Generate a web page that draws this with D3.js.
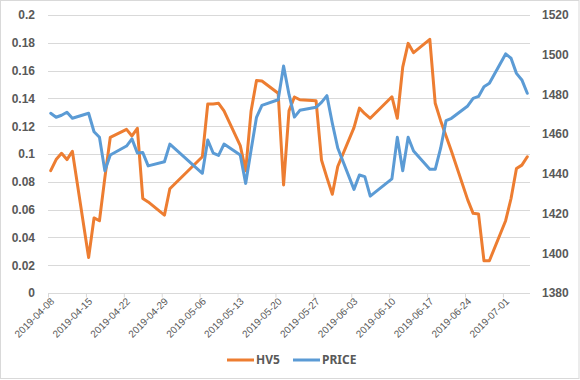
<!DOCTYPE html>
<html>
<head>
<meta charset="utf-8">
<script src="https://cdn.jsdelivr.net/npm/d3@7"></script>
<style>
  html, body { margin: 0; padding: 0; background: #fff; }
  svg { display: block; font-family: "Noto Sans", "Open Sans", sans-serif; }
</style>
</head>
<body>
<svg id="chart" width="580" height="380"></svg>
<script>
const dates = [
  "2019-04-08","2019-04-09","2019-04-10","2019-04-11","2019-04-12",
  "2019-04-15","2019-04-16","2019-04-17","2019-04-18","2019-04-19",
  "2019-04-22","2019-04-23","2019-04-24","2019-04-25","2019-04-26",
  "2019-04-29","2019-04-30",
  "2019-05-06","2019-05-07","2019-05-08","2019-05-09","2019-05-10",
  "2019-05-13","2019-05-14","2019-05-15","2019-05-16","2019-05-17",
  "2019-05-20","2019-05-21","2019-05-22","2019-05-23","2019-05-24",
  "2019-05-27","2019-05-28","2019-05-29","2019-05-30","2019-05-31",
  "2019-06-03","2019-06-04","2019-06-05","2019-06-06",
  "2019-06-10","2019-06-11","2019-06-12","2019-06-13","2019-06-14",
  "2019-06-17","2019-06-18","2019-06-19","2019-06-20","2019-06-21",
  "2019-06-24","2019-06-25","2019-06-26","2019-06-27","2019-06-28",
  "2019-07-01","2019-07-02","2019-07-03","2019-07-04","2019-07-05"
];
const hv5 = [
  0.088, 0.096, 0.1005, 0.096, 0.102,
  0.0255, 0.054, 0.052, 0.083, 0.112,
  0.1177, 0.113, 0.1185, 0.068, 0.0655,
  0.056, 0.075,
  0.098, 0.136, 0.136, 0.1365, 0.131,
  0.106, 0.088, 0.131, 0.1528, 0.1525,
  0.1437, 0.0777, 0.131, 0.141, 0.139,
  0.1383, 0.0957, 0.083, 0.071, 0.091,
  0.119, 0.133, 0.129, 0.1257,
  0.1412, 0.1257, 0.1625, 0.1796, 0.1729,
  0.1825, 0.1365, 0.124, 0.113, 0.102,
  0.067, 0.0573, 0.0568, 0.0232, 0.0232,
  0.052, 0.068, 0.0895, 0.092, 0.098
];
const price = [
  1470.5, 1468.5, 1469.5, 1471, 1468,
  1470.5, 1461.2, 1458.4, 1441.5, 1449.5,
  1454, 1457.6, 1450.5, 1450.7, 1444,
  1446.1, 1455,
  1440.3, 1457, 1450.5, 1449.3, 1455,
  1449.5, 1435.2, 1452, 1468.5, 1474.5,
  1477.3, 1494.3, 1480, 1468.6, 1472,
  1473.5, 1476, 1479.4, 1465.5, 1453,
  1432.2, 1439.4, 1438.6, 1428.8,
  1437.5, 1458.4, 1441.6, 1458.4, 1451.5,
  1442.3, 1442.3, 1452.9, 1466.8, 1468,
  1474.2, 1478, 1479, 1483.9, 1485.6,
  1500.4, 1498.2, 1490.6, 1487.3, 1480.6
];
const xTickLabels = ["2019-04-08","2019-04-15","2019-04-22","2019-04-29","2019-05-06",
  "2019-05-13","2019-05-20","2019-05-27","2019-06-03","2019-06-10","2019-06-17",
  "2019-06-24","2019-07-01"];
const leftTicks = [0, 0.02, 0.04, 0.06, 0.08, 0.1, 0.12, 0.14, 0.16, 0.18, 0.2];
const leftTickLabels = ["0","0.02","0.04","0.06","0.08","0.1","0.12","0.14","0.16","0.18","0.2"];
const rightTicks = [1380, 1400, 1420, 1440, 1460, 1480, 1500, 1520];
const rightTickLabels = ["1380","1400","1420","1440","1460","1480","1500","1520"];
const seriesNames = ["HV5", "PRICE"];
const axisStart = "2019-04-08", axisEnd = "2019-07-06";

(function () {
const parse = d3.utcParse("%Y-%m-%d");
const HALF_DAY = 12 * 3600 * 1000;
const svg = d3.select("#chart");
const W = 580, H = 380;
const pLeft = 48, pRight = 530, pTop = 15, pBottom = 293;
const colors = ["#ED7D31", "#5B9BD5"];
const textColor = "#595959";
const gridColor = "#d9d9d9";

svg.append("rect").attr("x", 0.5).attr("y", 0.5).attr("width", W - 1.5).attr("height", H - 2)
  .attr("fill", "#fff").attr("stroke", gridColor).attr("stroke-width", 1);

const x = d3.scaleUtc().domain([parse(axisStart), parse(axisEnd)]).range([pLeft, pRight]);
const yL = d3.scaleLinear().domain([0, 0.2]).range([pBottom, pTop]);
const yR = d3.scaleLinear().domain([1380, 1520]).range([pBottom, pTop]);

// gridlines
svg.append("g").selectAll("line").data(leftTicks.slice(1)).join("line")
  .attr("x1", pLeft).attr("x2", pRight)
  .attr("y1", d => Math.round(yL(d)) + 0.5).attr("y2", d => Math.round(yL(d)) + 0.5)
  .attr("stroke", gridColor).attr("stroke-width", 1);

// left axis
const leftAxis = d3.axisLeft(yL).tickValues(leftTicks)
  .tickFormat((d, i) => leftTickLabels[i]).tickSize(0).tickPadding(13);
const gL = svg.append("g").attr("transform", `translate(${pLeft},0)`).call(leftAxis);
gL.select(".domain").remove();
gL.selectAll("text").attr("fill", textColor).style("font-size", "12px").style("font-weight", "bold");

// right axis
const rightAxis = d3.axisRight(yR).tickValues(rightTicks)
  .tickFormat((d, i) => rightTickLabels[i]).tickSize(0).tickPadding(12);
const gR = svg.append("g").attr("transform", `translate(${pRight},0)`).call(rightAxis);
gR.select(".domain").remove();
gR.selectAll("text").attr("fill", textColor).style("font-size", "12px").style("font-weight", "bold");

// x axis
const xAxis = d3.axisBottom(x).tickValues(xTickLabels.map(parse))
  .tickFormat((d, i) => xTickLabels[i]).tickSize(4).tickSizeOuter(0);
const gX = svg.append("g").attr("transform", `translate(0,${Math.round(pBottom) + 0.5})`).call(xAxis);
gX.select(".domain").attr("stroke", gridColor).attr("d", `M${pLeft},0H${pRight}`);
gX.selectAll(".tick line").attr("stroke", gridColor);
gX.selectAll(".tick text")
  .attr("fill", textColor).style("font-size", "10px")
  .attr("text-anchor", "end")
  .attr("transform", "translate(4,6) rotate(-45)")
  .attr("x", 0).attr("y", 0).attr("dy", "0.35em");

// lines
const pts = dates.map(parse).map(d => new Date(d.getTime() + HALF_DAY));
const lineL = d3.line().x((d, i) => x(pts[i])).y(d => yL(d));
const lineR = d3.line().x((d, i) => x(pts[i])).y(d => yR(d));

svg.append("path").datum(hv5).attr("d", lineL)
  .attr("fill", "none").attr("stroke", colors[0]).attr("stroke-width", 3)
  .attr("stroke-linejoin", "round").attr("stroke-linecap", "round");
svg.append("path").datum(price).attr("d", lineR)
  .attr("fill", "none").attr("stroke", colors[1]).attr("stroke-width", 3)
  .attr("stroke-linejoin", "round").attr("stroke-linecap", "round");

// legend
const legendItems = [{name: seriesNames[0], x0: 227}, {name: seriesNames[1], x0: 293}];
const lg = svg.append("g");
legendItems.forEach((it, i) => {
  lg.append("line").attr("x1", it.x0).attr("x2", it.x0 + 27).attr("y1", 360).attr("y2", 360)
    .attr("stroke", colors[i]).attr("stroke-width", 3);
  lg.append("text").attr("x", it.x0 + 29).attr("y", 360).attr("dy", "0.35em")
    .attr("fill", textColor).style("font-size", "12px").style("font-weight", "bold")
    .text(it.name);
});
})();
</script>
</body>
</html>
